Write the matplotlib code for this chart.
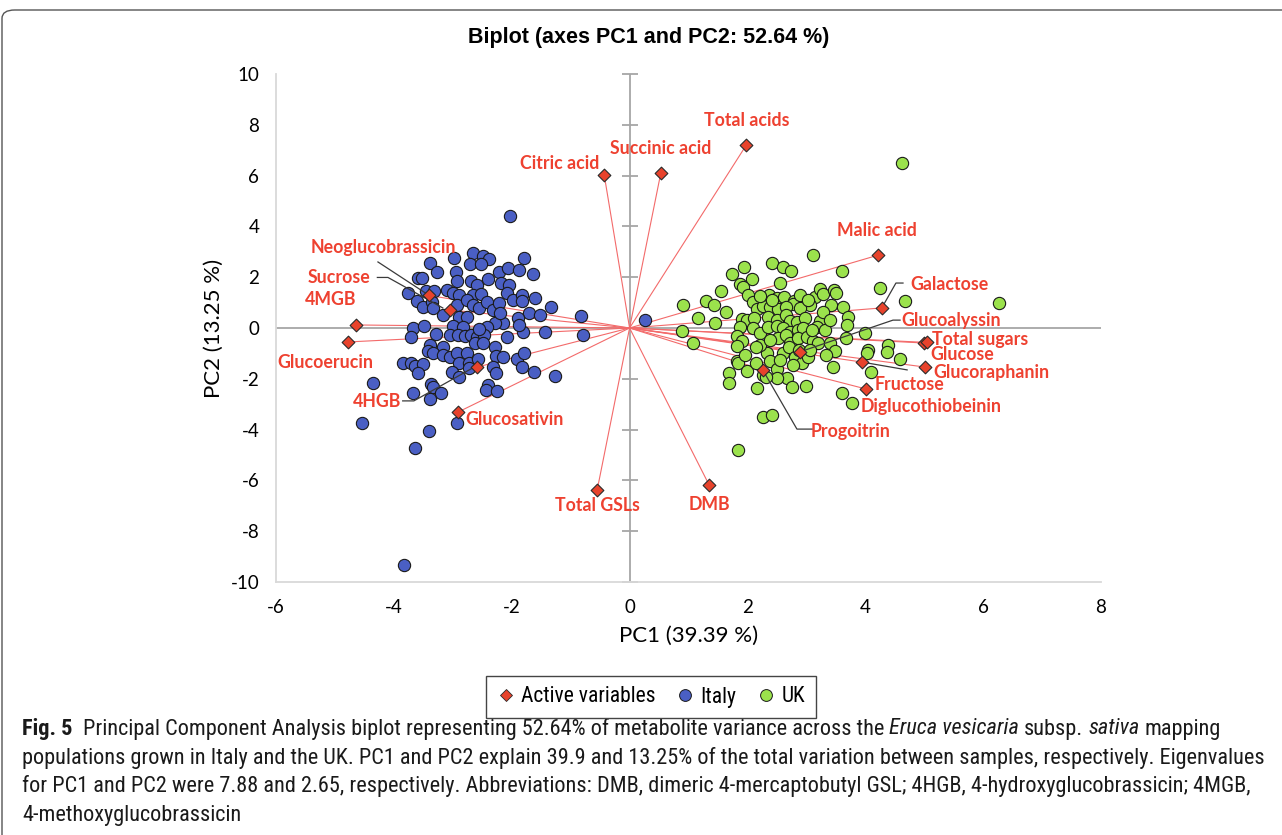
"""
PCA biplot (PC1 vs PC2) of rocket metabolite data, Italy vs UK populations,
with the active variables drawn as red diamonds joined to the origin.
"""

import matplotlib.pyplot as plt
import numpy as np
from matplotlib import font_manager
from matplotlib.lines import Line2D
from matplotlib.patches import FancyBboxPatch

plt.rcParams['axes.unicode_minus'] = False

# Sample scores
italy_pc1 = np.array([
    -2.03, -2.66, -2.49, -2.39, -2.98, -1.79, -3.39, -2.71, -2.52, -3.27,
    -2.95, -2.22, -2.06, -1.88, -1.64, -3.59, -3.52, -2.93, -2.69, -2.59,
    -2.40, -2.18, -2.05, -3.46, -3.32, -3.10, -3.00, -2.90, -3.76, -2.66,
    -2.52, -2.08, -1.98, -1.83, -1.83, -1.61, -3.61, -3.51, -3.35, -3.34,
    -3.17, -2.93, -2.76, -2.66, -2.56, -2.42, -2.32, -2.22, -1.71, -1.52,
    -1.33, -1.89, -2.15, -2.28, -2.42, -2.20, -2.90, -2.76, -3.00, -2.83,
    -0.82, -3.67, -3.49, -3.71, -3.29, -3.05, -2.91, -2.79, -2.69, -2.59,
    -2.47, -2.56, -2.08, -1.81, -1.88, -1.44, -0.79, -3.39, -3.42, -3.17,
    -3.34, -3.17, -3.05, -2.93, -2.76, -2.62, -2.49, -2.28, -2.27, -2.15,
    -1.91, -1.79, -3.85, -3.71, -3.64, -3.51, -3.59, -2.90, -2.73, -2.57,
    -2.32, -2.27, -1.83, -1.62, -1.27, -3.01, -2.90, -4.36, -3.37, -3.34,
    -3.20, -3.67, -3.39, -2.40, -2.44, -2.25, -4.54, -2.93, -3.40, -3.64,
    -3.83, 0.26, -2.73])
italy_pc2 = np.array([
    4.41, 2.95, 2.83, 2.72, 2.76, 2.76, 2.56, 2.52, 2.52, 2.20,
    2.20, 2.20, 2.36, 2.28, 2.13, 1.97, 1.97, 1.85, 1.85, 1.69,
    1.93, 1.77, 1.69, 1.46, 1.46, 1.50, 1.38, 1.30, 1.38, 1.30,
    1.34, 1.38, 1.10, 1.30, 1.06, 1.18, 1.06, 0.83, 1.02, 0.79,
    0.51, 0.91, 1.10, 0.91, 0.79, 1.02, 0.71, 0.98, 0.59, 0.51,
    0.83, 0.39, 0.20, 0.20, 0.04, 0.59, 0.43, 0.43, 0.08, 0.04,
    0.47, 0.00, 0.08, -0.35, -0.24, -0.28, -0.28, -0.31, -0.28, -0.35,
    -0.28, -0.04, -0.35, -0.16, 0.12, -0.16, -0.28, -0.67, -0.91, -0.75,
    -0.98, -1.06, -1.14, -0.98, -0.98, -0.59, -0.59, -0.75, -1.10, -1.14,
    -1.22, -0.98, -1.38, -1.38, -1.50, -1.42, -1.77, -1.38, -1.38, -1.22,
    -1.54, -1.77, -1.54, -1.73, -1.89, -1.73, -1.93, -2.17, -2.20, -2.32,
    -2.56, -2.56, -2.80, -2.24, -2.44, -2.48, -3.74, -3.74, -4.06, -4.72,
    -9.33, 0.31, -1.57])

uk_pc1 = np.array([
    4.62, 3.11, 2.42, 2.60, 2.74, 1.94, 1.74, 2.08, 3.60, 1.87,
    1.92, 2.55, 1.55, 4.25, 1.30, 1.43, 0.91, 1.16, 1.45, 1.64,
    2.01, 2.09, 2.37, 2.50, 2.62, 2.79, 2.77, 3.15, 3.23, 3.28,
    3.47, 3.50, 3.42, 3.62, 3.71, 3.69, 4.67, 6.27, 3.06, 2.89,
    2.16, 2.26, 2.38, 2.52, 2.65, 1.91, 1.99, 2.11, 2.35, 2.50,
    2.65, 2.72, 2.84, 2.98, 3.23, 3.18, 1.87, 2.09, 2.21, 0.89,
    1.08, 1.82, 1.91, 2.35, 2.50, 2.60, 2.72, 2.86, 2.94, 2.52,
    2.65, 2.72, 2.86, 3.01, 3.11, 3.20, 3.40, 3.49, 3.67, 4.00,
    4.39, 4.37, 4.05, 4.03, 4.59, 1.82, 1.82, 1.84, 1.69, 1.69,
    1.99, 2.15, 2.26, 2.33, 2.38, 2.50, 2.67, 2.76, 2.50, 2.60,
    2.71, 2.81, 2.93, 3.03, 2.88, 2.77, 3.45, 2.99, 2.16, 3.60,
    3.77, 4.10, 2.26, 2.42, 1.84, 2.32, 2.21, 2.42, 2.89, 3.03,
    2.21, 2.38, 3.10, 3.32, 2.55, 3.06, 3.33, 1.96, 3.28, 3.40,
    2.15])
uk_pc2 = np.array([
    6.50, 2.87, 2.56, 2.40, 2.24, 2.40, 2.13, 1.93, 2.24, 1.73,
    1.61, 1.77, 1.46, 1.57, 1.06, 0.91, 0.91, 0.39, 0.20, 0.63,
    1.30, 1.02, 1.30, 1.18, 1.22, 1.06, 0.94, 1.22, 1.54, 1.34,
    1.50, 1.38, 0.91, 0.83, 0.43, 0.12, 1.06, 0.98, 0.91, 0.79,
    0.75, 0.87, 0.83, 0.75, 0.83, 0.35, 0.31, 0.39, 0.43, 0.31,
    0.51, 0.28, 0.24, 0.39, 0.28, 0.04, 0.04, 0.00, -0.20, -0.12,
    -0.59, -0.31, -0.51, 0.04, 0.08, 0.00, -0.16, -0.08, 0.00, -0.39,
    -0.28, -0.59, -0.39, -0.35, -0.51, -0.59, -0.59, -0.91, -0.39, -0.20,
    -0.67, -0.94, -0.87, -0.98, -1.22, -0.71, -1.30, -1.38, -1.77, -2.17,
    -1.69, -1.38, -1.85, -0.98, -1.30, -1.61, -1.97, -2.32, -1.97, -0.98,
    -0.75, -1.14, -1.38, -1.14, -0.87, -1.46, -1.54, -2.28, -2.36, -2.56,
    -2.95, -1.73, -3.50, -3.43, -4.80, -1.93, 1.26, 1.10, 1.30, 1.10,
    -0.67, -0.47, -0.08, -0.08, -1.26, -0.87, -1.06, -1.06, 0.63, 0.31,
    -0.75])

# Active variables (loadings scaled onto the score axes)
var_names = ['Total acids', 'Citric acid', 'Succinic acid', 'Malic acid',
             'Galactose', 'Glucoalyssin', 'Total sugars', 'Glucose',
             'Glucoraphanin', 'Diglucothiobeinin', 'Fructose', 'Progoitrin',
             'DMB', 'Total GSLs', 'Glucosativin', '4HGB', 'Glucoerucin',
             '4MGB', 'Sucrose', 'Neoglucobrassicin']
var_pc1 = [1.98, -0.43, 0.53, 4.22, 4.28, 2.89, 4.99, 5.05, 5.02, 3.94,
           4.01, 2.26, 1.35, -0.55, -2.91, -2.59, -4.78, -4.64, -3.05, -3.40]
var_pc2 = [7.20, 6.02, 6.10, 2.87, 0.79, -0.94, -0.59, -0.57, -1.54, -1.34,
           -2.40, -1.65, -6.18, -6.38, -3.31, -1.54, -0.55, 0.12, 0.71, 1.28]

# where each variable name sits (x, y, horizontal alignment)
label_pos = {
    'Total acids': (1.98, 8.15, 'center'),
    'Succinic acid': (0.52, 7.05, 'center'),
    'Citric acid': (-1.18, 6.46, 'center'),
    'Malic acid': (4.20, 3.82, 'center'),
    'Galactose': (4.77, 1.73, 'left'),
    'Glucoalyssin': (4.62, 0.28, 'left'),
    'Total sugars': (5.13, -0.47, 'left'),
    'Glucose': (5.11, -1.06, 'left'),
    'Glucoraphanin': (5.16, -1.77, 'left'),
    'Fructose': (4.16, -2.24, 'left'),
    'Diglucothiobeinin': (3.92, -3.11, 'left'),
    'Progoitrin': (3.08, -4.06, 'left'),
    'DMB': (1.35, -6.93, 'center'),
    'Total GSLs': (-0.54, -6.97, 'center'),
    'Glucosativin': (-2.78, -3.62, 'left'),
    '4HGB': (-3.88, -2.91, 'right'),
    'Glucoerucin': (-5.16, -1.34, 'center'),
    '4MGB': (-5.07, 1.14, 'center'),
    'Sucrose': (-4.39, 1.97, 'right'),
    'Neoglucobrassicin': (-4.17, 3.15, 'center'),
}

# leader lines from a label to its (partly hidden) diamond
leaders = [
    [(4.64, 1.77), (4.52, 1.77), (4.28, 0.79)],
    [(4.59, 0.31), (4.47, 0.31), (2.89, -0.94)],
    [(4.71, -1.65), (3.94, -1.34)],
    [(3.10, -3.98), (2.84, -3.98), (2.26, -1.65)],
    [(-4.27, 2.60), (-3.40, 1.28)],
    [(-4.28, 1.99), (-4.10, 1.99), (-3.17, 0.79)],
    [(-3.85, -2.87), (-3.66, -2.87), (-2.66, -1.57)],
]

red_text = '#EE4130'
red_fill = '#E8432C'
blue = '#4A5FC4'
green = '#9BE24C'

available = {f.name for f in font_manager.fontManager.ttflist}
cap_font = 'Roboto'
for cand in ['Liberation Sans Narrow', 'Roboto Condensed', 'Open Sans Condensed']:
    if cand in available:
        cap_font = cand
        break
chart_font = 'Lato'

W, H = 1282, 835
fig = plt.figure(figsize=(W / 100, H / 100), dpi=100)
ax = fig.add_axes([276 / W, 1 - 582 / H, (1101 - 276) / W, (582 - 74) / H])

# origin-to-variable lines
for x, y in zip(var_pc1, var_pc2):
    ax.plot([0, x], [0, y], color='#F36A6A', lw=0.8, zorder=2)

ax.scatter(italy_pc1, italy_pc2, s=78, color=blue, edgecolor='#1a1a1a',
           linewidth=0.8, zorder=3)
ax.scatter(uk_pc1, uk_pc2, s=78, color=green, edgecolor='#1a1a1a',
           linewidth=0.8, zorder=3)

for path in leaders:
    xs, ys = zip(*path)
    ax.plot(xs, ys, color='#3a3a3a', lw=0.9, zorder=4)

ax.scatter(var_pc1, var_pc2, marker='D', s=42, color=red_fill,
           edgecolor='#2a2a2a', linewidth=0.8, zorder=5)

for name in var_names:
    lx, ly, ha = label_pos[name]
    ax.text(lx, ly, name, ha=ha, va='center', color=red_text, fontsize=12.8,
            fontweight='bold', family=chart_font, zorder=6)

# Excel-like axes: lines through the origin, ticks only on the vertical one
ax.axhline(0, color='#A6A6A6', lw=1.3, zorder=1)
ax.axvline(0, color='#A6A6A6', lw=1.3, zorder=1)
yt = np.arange(-10, 11, 2)
ax.plot(np.zeros(len(yt)), yt, ls='none', marker='_', markersize=11,
        markeredgewidth=1.3, color='#A6A6A6', zorder=1, clip_on=False)

ax.set_xlim(-6, 8)
ax.set_ylim(-10, 10)
ax.set_xticks(np.arange(-6, 9, 2))
ax.set_yticks(yt)
ax.tick_params(length=0, labelsize=13.5, pad=12)
for lab in ax.get_xticklabels() + ax.get_yticklabels():
    lab.set_family(chart_font)
for side in ['top', 'right']:
    ax.spines[side].set_visible(False)
for side in ['left', 'bottom']:
    ax.spines[side].set_color('#D9D9D9')
    ax.spines[side].set_linewidth(1.3)

ax.set_xlabel('PC1 (39.39 %)', fontsize=16, family=chart_font, labelpad=7)
ax.set_ylabel('PC2 (13.25 %)', fontsize=16, family=chart_font, labelpad=5)

fig.text(649 / W, 1 - 38 / H, 'Biplot (axes PC1 and PC2: 52.64 %)',
         ha='center', va='center', fontsize=15.5, fontweight='bold',
         family='Liberation Sans')

handles = [
    Line2D([], [], ls='none', marker='D', markersize=6, color=red_fill,
           markeredgecolor='#2a2a2a', markeredgewidth=0.6),
    Line2D([], [], ls='none', marker='o', markersize=8.5, color=blue,
           markeredgecolor='#1a1a1a', markeredgewidth=0.7),
    Line2D([], [], ls='none', marker='o', markersize=8.5, color=green,
           markeredgecolor='#1a1a1a', markeredgewidth=0.7),
]
leg = fig.legend(handles, ['Active variables', 'Italy', 'UK'], loc='center',
                 bbox_to_anchor=(651 / W, 1 - 697 / H), ncol=3,
                 fancybox=False, edgecolor='#444444', framealpha=1,
                 handlelength=0.8, handletextpad=0.3, columnspacing=1.0,
                 borderpad=0.5, prop={'family': cap_font, 'size': 15.5})
leg.get_frame().set_linewidth(1.0)

# caption panel border
fig.patches.append(FancyBboxPatch(
    (2 / W, -0.2), 1.2, 1 - 10 / H + 0.2, transform=fig.transFigure,
    boxstyle='round,pad=0,rounding_size=0.01', fill=False,
    edgecolor='#555555', lw=1.0))

# caption, built piece by piece so bold / italic runs can sit inline
renderer = fig.canvas.get_renderer()


def text_width(s, size, **kw):
    t = fig.text(0, 0, s, fontsize=size, family=cap_font, **kw)
    w = t.get_window_extent(renderer).width
    t.remove()
    return w


line2 = ('populations grown in Italy and the UK. PC1 and PC2 explain 39.9 and '
         '13.25% of the total variation between samples, respectively. '
         'Eigenvalues')
cap_size = 12 * 1240 / text_width(line2, 12)
space = text_width('a a', cap_size) - text_width('aa', cap_size)

caption = [
    [('Fig. 5', 'normal', 'bold', 2.0),
     ('Principal Component Analysis biplot representing 52.64% of metabolite '
      'variance across the', 'normal', 'normal', 1.0),
     ('Eruca vesicaria', 'italic', 'normal', 1.0),
     ('subsp.', 'normal', 'normal', 1.0),
     ('sativa', 'italic', 'normal', 1.0),
     ('mapping', 'normal', 'normal', 0)],
    [(line2, 'normal', 'normal', 0)],
    [('for PC1 and PC2 were 7.88 and 2.65, respectively. Abbreviations: DMB, '
      'dimeric 4-mercaptobutyl GSL; 4HGB, 4-hydroxyglucobrassicin; 4MGB,',
      'normal', 'normal', 0)],
    [('4-methoxyglucobrassicin', 'normal', 'normal', 0)],
]
line_y = [729, 758, 786, 815]

for parts, py in zip(caption, line_y):
    x_px = 22
    for s, style, weight, gap in parts:
        t = fig.text(x_px / W, 1 - py / H, s, fontsize=cap_size,
                     fontstyle=style, fontweight=weight, family=cap_font,
                     ha='left', va='center', color='#1a1a1a')
        bb = t.get_window_extent(renderer)
        x_px = bb.x1 + gap * space

fig.savefig('out.png', dpi=100)
